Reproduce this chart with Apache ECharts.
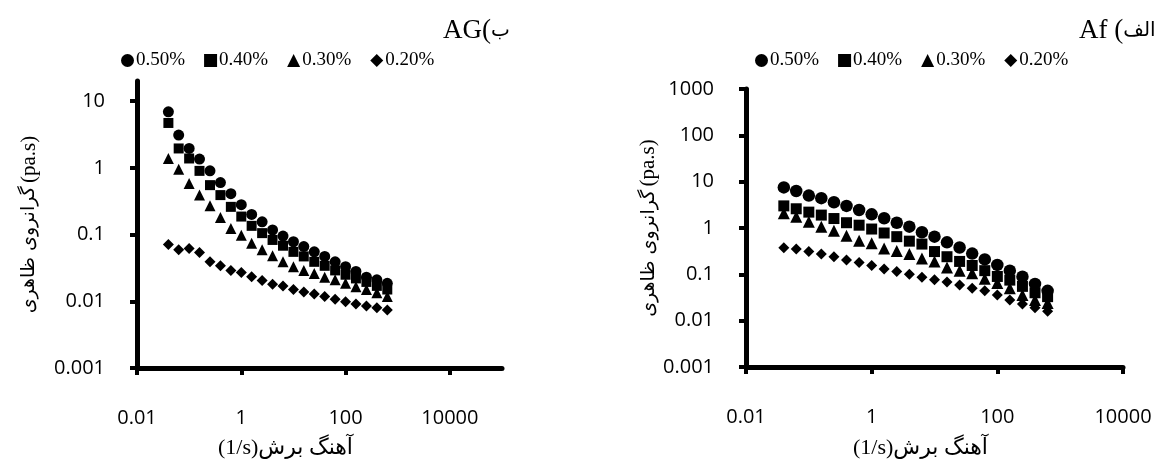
<!DOCTYPE html>
<html>
<head>
<meta charset="utf-8">
<script src="https://cdn.jsdelivr.net/npm/echarts@6/dist/echarts.min.js"></script>
<style>
  html, body { margin: 0; padding: 0; background: #fff; }
  #chart { width: 1156px; height: 459px; }
</style>
</head>
<body>
<div id="chart"></div>
<script>
// shear rate (1/s), same sweep for both samples
const shearRate = [0.04, 0.063, 0.1, 0.158, 0.251, 0.398, 0.631, 1, 1.58, 2.51, 3.98, 6.31,
  10, 15.8, 25.1, 39.8, 63.1, 100, 158, 251, 398, 631]

const seriesNames = ['0.50%', '0.40%', '0.30%', '0.20%']

// AG (ب) apparent viscosity, pa.s
const agVisc050 = [6.9, 3.1, 1.95, 1.35, 0.9, 0.6, 0.41, 0.28, 0.2, 0.155, 0.117, 0.095,
  0.078, 0.066, 0.055, 0.047, 0.039, 0.033, 0.028, 0.023, 0.021, 0.0186]
const agVisc040 = [4.7, 1.95, 1.38, 0.9, 0.55, 0.39, 0.26, 0.186, 0.135, 0.105, 0.083, 0.068,
  0.055, 0.047, 0.039, 0.034, 0.029, 0.025, 0.022, 0.0195, 0.017, 0.015]
const agVisc030 = [1.38, 0.95, 0.58, 0.39, 0.27, 0.18, 0.123, 0.098, 0.074, 0.059, 0.048, 0.039,
  0.033, 0.029, 0.026, 0.023, 0.021, 0.0186, 0.0165, 0.015, 0.0134, 0.0118]
const agVisc020 = [0.071, 0.059, 0.062, 0.054, 0.039, 0.034, 0.029, 0.027, 0.0234, 0.0204, 0.018, 0.017,
  0.015, 0.0138, 0.0128, 0.0118, 0.0107, 0.0098, 0.0091, 0.0085, 0.008, 0.0074]

// Af (الف) apparent viscosity, pa.s
const afVisc050 = [7.5, 6.3, 5.0, 4.4, 3.6, 3.0, 2.45, 1.97, 1.62, 1.3, 1.07, 0.81,
  0.65, 0.49, 0.38, 0.28, 0.21, 0.16, 0.12, 0.089, 0.062, 0.044]
const afVisc040 = [3.0, 2.6, 2.2, 1.9, 1.6, 1.3, 1.15, 0.95, 0.78, 0.65, 0.52, 0.45,
  0.31, 0.24, 0.19, 0.155, 0.12, 0.09, 0.075, 0.055, 0.04, 0.033]
const afVisc030 = [2.08, 1.75, 1.37, 1.07, 0.87, 0.68, 0.53, 0.47, 0.36, 0.32, 0.275, 0.22,
  0.19, 0.14, 0.12, 0.105, 0.08, 0.065, 0.05, 0.036, 0.028, 0.024]
const afVisc020 = [0.376, 0.352, 0.31, 0.275, 0.24, 0.204, 0.18, 0.155, 0.13, 0.115, 0.1, 0.087,
  0.076, 0.068, 0.059, 0.05, 0.044, 0.036, 0.028, 0.023, 0.019, 0.016]

// tick labels
const xTicks = [0.01, 1, 100, 10000]
const agYTicks = [0.001, 0.01, 0.1, 1, 10]
const afYTicks = [0.001, 0.01, 0.1, 1, 10, 100, 1000]

const symbols = ['circle', 'rect', 'triangle', 'diamond']
const agSizes = [11, 10, 11, 11]
const afSizes = [12.5, 11, 12, 11]

const serif = 'Liberation Serif, DejaVu Sans'
const sans = 'Open Sans, DejaVu Sans'

const fmt = (v) => String(+Number(v).toPrecision(6))

const pairs = (ys) => ys.map((y, i) => [shearRate[i], y])

function makeXAxis(gridIndex, max) {
  return {
    type: 'log', gridIndex, min: 0.01, max,
    axisLine: { lineStyle: { color: '#000', width: 5 } },
    axisTick: { customValues: xTicks, length: 7, lineStyle: { color: '#000', width: 4 } },
    axisLabel: { customValues: xTicks, margin: 40, formatter: fmt, color: '#000', fontFamily: sans, fontSize: 20 },
    splitLine: { show: false }
  }
}

function makeYAxis(gridIndex, max, ticks, nameGap) {
  return {
    type: 'log', gridIndex, min: 0.001, max,
    name: '{p|گرانروی ظاهری} {s|(pa.s)}', nameLocation: 'middle', nameRotate: 90, nameGap,
    nameTextStyle: {
      color: '#000',
      rich: {
        p: { fontFamily: 'DejaVu Sans', fontSize: 19, color: '#000' },
        s: { fontFamily: serif, fontSize: 21, color: '#000' }
      }
    },
    axisLine: { lineStyle: { color: '#000', width: 5 } },
    axisTick: { customValues: ticks, length: 7, lineStyle: { color: '#000', width: 4 } },
    axisLabel: { customValues: ticks, margin: 32, formatter: fmt, color: '#000', fontFamily: sans, fontSize: 20 },
    splitLine: { show: false }
  }
}

function makeLegend(left) {
  return {
    left, top: 46, itemWidth: 13, itemHeight: 13, itemGap: 19,
    data: seriesNames.map((n, i) => ({ name: n, icon: symbols[i] })),
    textStyle: { color: '#000', fontFamily: serif, fontSize: 19, padding: [0, 0, 0, -3] }
  }
}

const titleRich = {
  l: { fontFamily: serif, fontSize: 27, fontWeight: 'normal', color: '#000' },
  f: { fontFamily: 'DejaVu Sans', fontSize: 20, fontWeight: 'normal', color: '#000' }
}
const axisTitleStyle = { color: '#000', fontFamily: serif, fontSize: 22, fontWeight: 'normal' }

const agData = [agVisc050, agVisc040, agVisc030, agVisc020]
const afData = [afVisc050, afVisc040, afVisc030, afVisc020]

const series = []
agData.forEach((ys, i) => series.push({
  name: seriesNames[i], type: 'scatter', xAxisIndex: 0, yAxisIndex: 0,
  symbol: symbols[i], symbolSize: agSizes[i], itemStyle: { color: '#000', opacity: 1 },
  data: pairs(ys)
}))
afData.forEach((ys, i) => series.push({
  name: seriesNames[i], type: 'scatter', xAxisIndex: 1, yAxisIndex: 1,
  symbol: symbols[i], symbolSize: afSizes[i], itemStyle: { color: '#000', opacity: 1 },
  data: pairs(ys)
}))

const option = {
  backgroundColor: '#fff',
  animation: false,
  title: [
    { text: '{l|AG(}{f|ب}', left: 438, top: 12, textStyle: { fontWeight: 'normal', rich: titleRich } },
    { text: '{l|Af (}{f|الف}', left: 1074, top: 12, textStyle: { fontWeight: 'normal', rich: titleRich } },
    { text: '(1/s)آهنگ برش', left: 213, top: 432, textStyle: axisTitleStyle },
    { text: '(1/s)آهنگ برش', left: 848, top: 432, textStyle: axisTitleStyle }
  ],
  legend: [makeLegend(116), makeLegend(750)],
  grid: [
    { left: 137, top: 81, width: 365, height: 287 },
    { left: 746, top: 89, width: 377, height: 278 }
  ],
  xAxis: [makeXAxis(0, 100000), makeXAxis(1, 10000)],
  yAxis: [makeYAxis(0, 20, agYTicks, 97), makeYAxis(1, 1000, afYTicks, 84)],
  series
}

const chart = echarts.init(document.getElementById('chart'), null, { renderer: 'canvas' })
chart.setOption(option)
window.addEventListener('resize', () => chart.resize())
</script>
</body>
</html>
